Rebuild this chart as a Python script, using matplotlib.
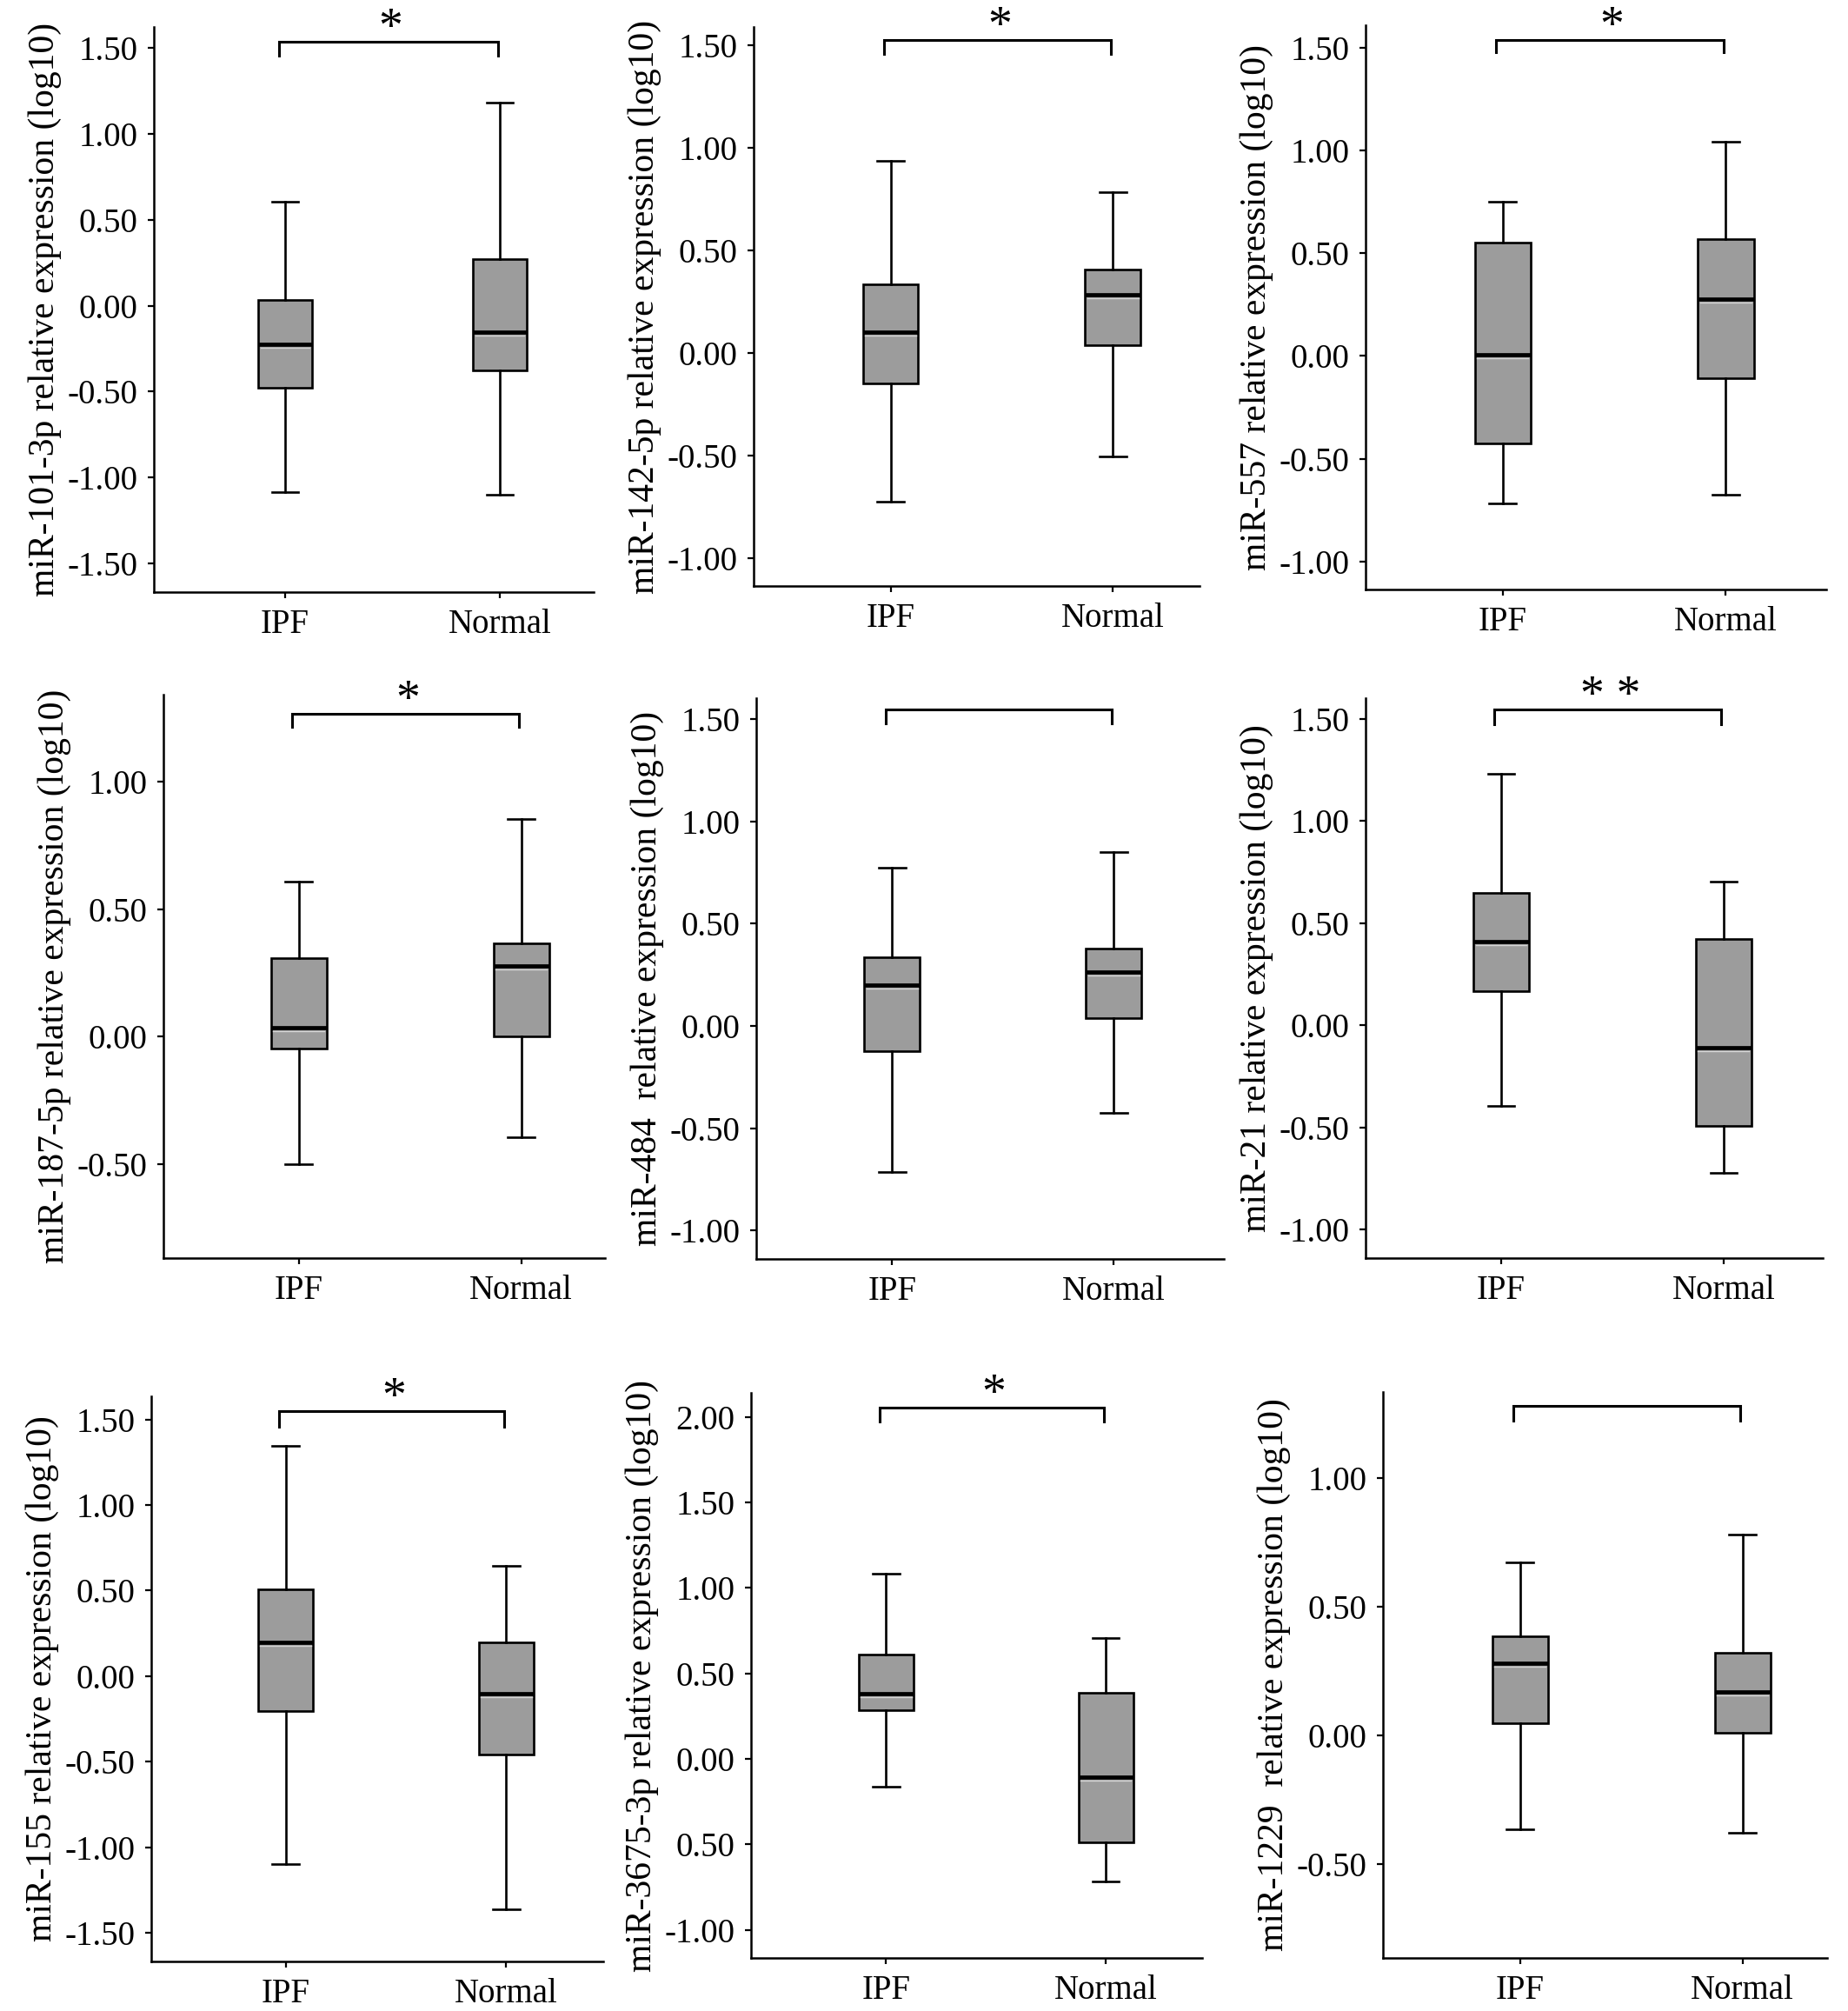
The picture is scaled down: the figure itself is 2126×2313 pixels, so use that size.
import matplotlib
matplotlib.use('Agg')
import matplotlib.pyplot as plt
import matplotlib.transforms as mtransforms

plt.rcParams['font.family'] = ['Liberation Serif', 'DejaVu Serif']

groups = ['IPF', 'Normal']

ylabels = ['miR-101-3p relative expression (log10)',
           'miR-142-5p relative expression (log10)',
           'miR-557 relative expression (log10)',
           'miR-187-5p relative expression (log10)',
           'miR-484  relative expression (log10)',
           'miR-21 relative expression (log10)',
           'miR-155 relative expression (log10)',
           'miR-3675-3p relative expression (log10)',
           'miR-1229  relative expression (log10)']

# box stats (log10 units)
ipf_low  = [-1.086, -0.724, -0.720, -0.498, -0.714, -0.394, -1.098, -0.162, -0.365]
ipf_q1   = [-0.479, -0.147, -0.426, -0.045, -0.124,  0.168, -0.206,  0.283,  0.049]
ipf_med  = [-0.224,  0.100,  0.004,  0.035,  0.200,  0.409,  0.196,  0.381,  0.281]
ipf_q3   = [ 0.033,  0.336,  0.553,  0.309,  0.335,  0.647,  0.505,  0.612,  0.385]
ipf_high = [ 0.605,  0.936,  0.752,  0.608,  0.776,  1.232,  1.343,  1.084,  0.672]

nor_low  = [-1.097, -0.507, -0.675, -0.394, -0.424, -0.722, -1.360, -0.717, -0.377]
nor_q1   = [-0.378,  0.036, -0.109,  0.000,  0.037, -0.494, -0.456, -0.491,  0.011]
nor_med  = [-0.154,  0.282,  0.277,  0.279,  0.263, -0.110, -0.100, -0.106,  0.170]
nor_q3   = [ 0.273,  0.406,  0.569,  0.365,  0.377,  0.423,  0.199,  0.386,  0.320]
nor_high = [ 1.181,  0.785,  1.043,  0.854,  0.849,  0.703,  0.642,  0.708,  0.781]

yticks = [[-1.5, -1.0, -0.5, 0.0, 0.5, 1.0, 1.5],
          [-1.0, -0.5, 0.0, 0.5, 1.0, 1.5],
          [-1.0, -0.5, 0.0, 0.5, 1.0, 1.5],
          [-0.5, 0.0, 0.5, 1.0],
          [-1.0, -0.5, 0.0, 0.5, 1.0, 1.5],
          [-1.0, -0.5, 0.0, 0.5, 1.0, 1.5],
          [-1.5, -1.0, -0.5, 0.0, 0.5, 1.0, 1.5],
          [-1.0, -0.5, 0.0, 0.5, 1.0, 1.5, 2.0],
          [-0.5, 0.0, 0.5, 1.0]]
ytick_labels = [['-1.50', '-1.00', '-0.50', '0.00', '0.50', '1.00', '1.50'],
                ['-1.00', '-0.50', '0.00', '0.50', '1.00', '1.50'],
                ['-1.00', '-0.50', '0.00', '0.50', '1.00', '1.50'],
                ['-0.50', '0.00', '0.50', '1.00'],
                ['-1.00', '-0.50', '0.00', '0.50', '1.00', '1.50'],
                ['-1.00', '-0.50', '0.00', '0.50', '1.00', '1.50'],
                ['-1.50', '-1.00', '-0.50', '0.00', '0.50', '1.00', '1.50'],
                ['-1.00', '0.50', '0.00', '0.50', '1.00', '1.50', '2.00'],
                ['-0.50', '0.00', '0.50', '1.00']]

signif = ['*', '*', '*', '*', '', '* *', '*', '*', '']
bracket_top = [1.534, 1.525, 1.540, 1.266, 1.548, 1.544, 1.547, 2.054, 1.279]
bracket_end = [1.452, 1.460, 1.480, 1.214, 1.480, 1.473, 1.458, 1.973, 1.222]

ylims = [(-1.665, 1.62), (-1.137, 1.59), (-1.137, 1.61),
         (-0.867, 1.34), (-1.139, 1.603), (-1.139, 1.60),
         (-1.667, 1.635), (-1.165, 2.14), (-0.863, 1.334)]
xlims = [(0.389, 2.437), (0.384, 2.39), (0.386, 2.45),
         (0.392, 2.377), (0.387, 2.497), (0.39, 2.446),
         (0.391, 2.44), (0.385, 2.438), (0.385, 2.38)]

# axes frames in pixels: left, top, right, bottom
W, H = 2126, 2313
frames = [(177, 31, 683, 681), (867, 31, 1380, 674), (1571, 29, 2101, 678),
          (188, 799, 696, 1447), (870, 803, 1408, 1448), (1571, 803, 2097, 1447),
          (174, 1606, 694, 2256), (864, 1602, 1383, 2252), (1591, 1601, 2102, 2252)]

fig = plt.figure(figsize=(W / 100, H / 100), dpi=100)

for i in range(9):
    l, t, r, b = frames[i]
    ax = fig.add_axes([l / W, 1 - b / H, (r - l) / W, (b - t) / H])
    stats = [dict(whislo=ipf_low[i], q1=ipf_q1[i], med=ipf_med[i], q3=ipf_q3[i],
                  whishi=ipf_high[i], fliers=[]),
             dict(whislo=nor_low[i], q1=nor_q1[i], med=nor_med[i], q3=nor_q3[i],
                  whishi=nor_high[i], fliers=[])]
    bp = ax.bxp(stats, positions=[1, 2], widths=0.25, capwidths=0.12,
                patch_artist=True, showfliers=False,
                boxprops=dict(facecolor='#9c9c9c', edgecolor='black', linewidth=1.9),
                medianprops=dict(color='black', linewidth=3.4),
                whiskerprops=dict(color='black', linewidth=1.9),
                capprops=dict(color='black', linewidth=1.9))
    # faint light line under the median, as in the scanned figure
    shift = mtransforms.offset_copy(ax.transData, fig=fig, x=0, y=-4, units='dots')
    for m in bp['medians']:
        xs, ys = m.get_data()
        ax.plot([xs[0] + 0.01, xs[-1] - 0.01], ys[:2], color='#d4d4d4',
                linewidth=1.0, transform=shift, zorder=3)

    ax.set_xlim(*xlims[i])
    ax.set_ylim(*ylims[i])
    ax.set_xticks([1, 2])
    ax.set_xticklabels(groups)
    ax.set_yticks(yticks[i])
    ax.set_yticklabels(ytick_labels[i])
    for s in ['top', 'right']:
        ax.spines[s].set_visible(False)
    for s in ['left', 'bottom']:
        ax.spines[s].set_linewidth(1.8)
    ax.tick_params(axis='both', length=5, width=1.6, labelsize=28, pad=8.5)
    ax.set_ylabel(ylabels[i], fontsize=30)
    ax.yaxis.set_label_coords(-106 / (r - l), 0.5)

    ax.plot([0.97, 0.97, 1.99, 1.99],
            [bracket_end[i], bracket_top[i], bracket_top[i], bracket_end[i]],
            color='black', linewidth=2.2, solid_joinstyle='miter', clip_on=False)
    if signif[i]:
        ax.text(1.49, bracket_top[i], signif[i], ha='center', va='baseline',
                fontsize=40, clip_on=False)

fig.savefig('out.png', dpi=100)
